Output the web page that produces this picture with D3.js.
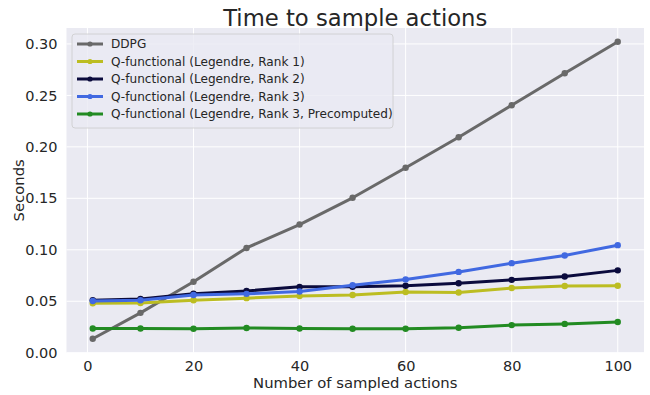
<!DOCTYPE html>
<html>
<head>
<meta charset="utf-8">
<script src="https://cdn.jsdelivr.net/npm/d3@7"></script>
<style>
  html, body { margin: 0; padding: 0; background: #ffffff; }
  svg { display: block; font-family: "DejaVu Sans", sans-serif; }
</style>
</head>
<body>
<svg id="chart" width="650" height="395"></svg>
<script>
// Number of sampled actions (x values)
const actions = [1, 10, 20, 30, 40, 50, 60, 70, 80, 90, 100];

// Sampling time in seconds for each method
const ddpg      = [0.0135, 0.0387, 0.0690, 0.1018, 0.1245, 0.1505, 0.1797, 0.2093, 0.2405, 0.2715, 0.3022];
const rank1     = [0.0480, 0.0482, 0.0510, 0.0530, 0.0550, 0.0560, 0.0590, 0.0585, 0.0628, 0.0648, 0.0650];
const rank2     = [0.0510, 0.0522, 0.0573, 0.0600, 0.0640, 0.0640, 0.0650, 0.0675, 0.0708, 0.0740, 0.0800];
const rank3     = [0.0502, 0.0510, 0.0560, 0.0572, 0.0595, 0.0655, 0.0712, 0.0785, 0.0870, 0.0945, 0.1045];
const rank3Pre  = [0.0235, 0.0235, 0.0233, 0.0240, 0.0235, 0.0233, 0.0233, 0.0243, 0.0268, 0.0280, 0.0298];

const seriesNames = [
  "DDPG",
  "Q-functional (Legendre, Rank 1)",
  "Q-functional (Legendre, Rank 2)",
  "Q-functional (Legendre, Rank 3)",
  "Q-functional (Legendre, Rank 3, Precomputed)"
];
const seriesValues = [ddpg, rank1, rank2, rank3, rank3Pre];
const seriesColors = ["#696969", "#bcbd22", "#0b0b3d", "#4169e1", "#228b22"];

const xTicks = [0, 20, 40, 60, 80, 100];
const yTicks = [0.00, 0.05, 0.10, 0.15, 0.20, 0.25, 0.30];

const svg = d3.select("#chart");
const plot = { left: 66.5, right: 644, top: 28, bottom: 352.7 };

const x = d3.scaleLinear().domain([-3.95, 104.95]).range([plot.left, plot.right]);
const y = d3.scaleLinear().domain([0, 0.3155]).range([plot.bottom, plot.top]);

// Plot background
svg.append("rect")
  .attr("x", plot.left).attr("y", plot.top)
  .attr("width", plot.right - plot.left).attr("height", plot.bottom - plot.top)
  .attr("fill", "#eaeaf2");

// Grid lines
const grid = svg.append("g").attr("stroke", "#ffffff").attr("stroke-width", 1);
grid.selectAll("line.vx").data(xTicks).join("line")
  .attr("x1", d => x(d)).attr("x2", d => x(d))
  .attr("y1", plot.top).attr("y2", plot.bottom);
grid.selectAll("line.hy").data(yTicks).join("line")
  .attr("x1", plot.left).attr("x2", plot.right)
  .attr("y1", d => y(d)).attr("y2", d => y(d));

// Axes (labels only, seaborn darkgrid style has no ticks or spines)
const xAxis = svg.append("g")
  .attr("transform", `translate(0,${plot.bottom})`)
  .call(d3.axisBottom(x).tickValues(xTicks).tickFormat(d3.format("d")).tickSize(0).tickPadding(8));
const yAxis = svg.append("g")
  .attr("transform", `translate(${plot.left},0)`)
  .call(d3.axisLeft(y).tickValues(yTicks).tickFormat(d3.format(".2f")).tickSize(0).tickPadding(9));
[xAxis, yAxis].forEach(a => {
  a.select(".domain").remove();
  a.selectAll("text")
    .attr("font-family", "DejaVu Sans, sans-serif")
    .attr("font-size", 14.5)
    .attr("fill", "#262626");
});

// Lines and markers
const line = d3.line().x((d, i) => x(actions[i])).y(d => y(d));
seriesValues.forEach((vals, k) => {
  const g = svg.append("g");
  g.append("path")
    .datum(vals)
    .attr("d", line)
    .attr("fill", "none")
    .attr("stroke", seriesColors[k])
    .attr("stroke-width", 3)
    .attr("stroke-linejoin", "round")
    .attr("stroke-linecap", "round");
  g.selectAll("circle").data(vals).join("circle")
    .attr("cx", (d, i) => x(actions[i]))
    .attr("cy", d => y(d))
    .attr("r", 3.2)
    .attr("fill", seriesColors[k]);
});

// Title and axis labels
svg.append("text")
  .attr("x", (plot.left + plot.right) / 2).attr("y", 25.5)
  .attr("text-anchor", "middle")
  .attr("font-size", 22.7)
  .attr("fill", "#262626")
  .text("Time to sample actions");

svg.append("text")
  .attr("x", (plot.left + plot.right) / 2).attr("y", 388)
  .attr("text-anchor", "middle")
  .attr("font-size", 14.8)
  .attr("fill", "#262626")
  .text("Number of sampled actions");

svg.append("text")
  .attr("transform", `translate(24,${(plot.top + plot.bottom) / 2}) rotate(-90)`)
  .attr("text-anchor", "middle")
  .attr("font-size", 14.8)
  .attr("fill", "#262626")
  .text("Seconds");

// Legend
const legend = svg.append("g").attr("transform", "translate(72,34)");
legend.append("rect")
  .attr("width", 321).attr("height", 94)
  .attr("rx", 3).attr("ry", 3)
  .attr("fill", "#eaeaf2").attr("fill-opacity", 0.8)
  .attr("stroke", "#cccccc").attr("stroke-width", 0.8);
seriesNames.forEach((name, k) => {
  const ly = 10 + k * 17.5;
  legend.append("line")
    .attr("x1", 5).attr("x2", 31).attr("y1", ly).attr("y2", ly)
    .attr("stroke", seriesColors[k]).attr("stroke-width", 3);
  legend.append("circle").attr("cx", 18).attr("cy", ly).attr("r", 2.6).attr("fill", seriesColors[k]);
  legend.append("text")
    .attr("x", 39).attr("y", ly + 4.4)
    .attr("font-size", 12.1)
    .attr("fill", "#262626")
    .text(name);
});
</script>
</body>
</html>
